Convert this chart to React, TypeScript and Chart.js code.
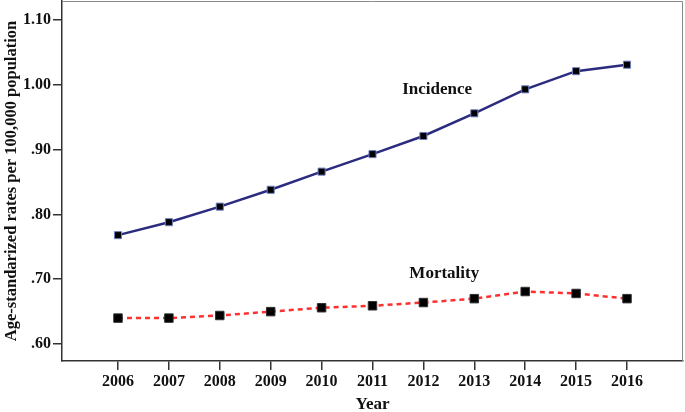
import React, { useEffect, useRef } from "react";
import { Chart, registerables } from "chart.js";

Chart.register(...registerables);

const years = [2006, 2007, 2008, 2009, 2010, 2011, 2012, 2013, 2014, 2015, 2016];
const incidence = [0.768, 0.788, 0.812, 0.838, 0.866, 0.893, 0.921, 0.956, 0.993, 1.021, 1.031];
const mortality = [0.640, 0.640, 0.644, 0.650, 0.656, 0.659, 0.664, 0.670, 0.681, 0.678, 0.670];
const yTicks = [0.6, 0.7, 0.8, 0.9, 1.0, 1.1];
const seriesLabels = [
  { text: "Incidence", x: 2012.27, y: 0.993 },
  { text: "Mortality", x: 2012.41, y: 0.708 },
];

const FONT = "'Liberation Serif', 'Times New Roman', serif";

const fmtY = (v: number) => {
  const s = v.toFixed(2);
  return s.startsWith("0") ? s.slice(1) : s;
};

export default function App() {
  const ref = useRef<HTMLCanvasElement | null>(null);
  useEffect(() => {
    if (!ref.current) return;
    const annot = {
      id: "annot",
      beforeDatasetsDraw(chart: any) {
        const { ctx, chartArea: a } = chart;
        ctx.save();
        ctx.strokeStyle = "#8a8a8a";
        ctx.lineWidth = 1;
        ctx.beginPath();
        ctx.moveTo(a.left, a.top + 0.5);
        ctx.lineTo(a.right - 0.5, a.top + 0.5);
        ctx.lineTo(a.right - 0.5, a.bottom);
        ctx.stroke();
        ctx.restore();
      },
      afterDatasetsDraw(chart: any) {
        const { ctx } = chart;
        const xs = chart.scales.x;
        const ys = chart.scales.y;
        ctx.save();
        ctx.fillStyle = "#111";
        ctx.font = `bold 17px ${FONT}`;
        ctx.textAlign = "center";
        ctx.textBaseline = "middle";
        seriesLabels.forEach((l) => {
          ctx.fillText(l.text, xs.getPixelForValue(l.x), ys.getPixelForValue(l.y));
        });
        ctx.restore();
      },
    };
    const chart = new Chart(ref.current, {
      type: "line",
      data: {
        datasets: [
          {
            label: "Incidence",
            data: years.map((y, i) => ({ x: y, y: incidence[i] })),
            borderColor: "#2b2b80",
            borderWidth: 2.5,
            pointStyle: "rect",
            pointRadius: 5,
            pointBackgroundColor: "#000",
            pointBorderColor: "#6f7fc0",
            pointBorderWidth: 1,
            tension: 0,
          },
          {
            label: "Mortality",
            data: years.map((y, i) => ({ x: y, y: mortality[i] })),
            borderColor: "#ff3030",
            borderWidth: 2.5,
            borderDash: [5, 4],
            pointStyle: "rect",
            pointRadius: 6,
            pointBackgroundColor: "#000",
            pointBorderColor: "#333",
            pointBorderWidth: 1,
            tension: 0,
          },
        ],
      },
      options: {
        animation: false,
        responsive: false,
        layout: { autoPadding: false, padding: { top: 1, right: 2, left: 0, bottom: 0 } },
        plugins: { legend: { display: false }, tooltip: { enabled: false } },
        scales: {
          x: {
            type: "linear",
            min: 2004.9,
            max: 2017.1,
            afterBuildTicks: (s: any) => {
              s.ticks = years.map((v) => ({ value: v }));
            },
            afterFit: (s: any) => {
              s.height = 51;
              s.paddingLeft = 0;
              s.paddingRight = 0;
            },
            grid: { drawOnChartArea: false, tickLength: 9, color: "#333", lineWidth: 1.5 },
            border: { color: "#333", width: 1.5 },
            ticks: {
              color: "#111",
              font: { family: FONT, size: 16, weight: "bold" },
              padding: 2,
              maxRotation: 0,
              callback: (v: any) => String(v),
            },
            title: {
              display: true,
              text: "Year",
              color: "#111",
              font: { family: FONT, size: 17, weight: "bold" },
              padding: { top: 5, bottom: -3 },
            },
          },
          y: {
            type: "linear",
            min: 0.5738,
            max: 1.1293,
            afterBuildTicks: (s: any) => {
              s.ticks = yTicks.map((v) => ({ value: v }));
            },
            afterFit: (s: any) => {
              s.width = 62;
              s.paddingTop = 0;
              s.paddingBottom = 0;
            },
            grid: { drawOnChartArea: false, tickLength: 9, color: "#333", lineWidth: 1.5 },
            border: { color: "#333", width: 1.5 },
            ticks: {
              color: "#111",
              font: { family: FONT, size: 16, weight: "bold" },
              padding: 2,
              callback: (v: any) => fmtY(Number(v)),
            },
            title: {
              display: true,
              text: "Age-standarized rates per 100,000 population",
              color: "#111",
              font: { family: FONT, size: 16.5, weight: "bold" },
              padding: { top: 2, bottom: 0 },
            },
          },
        },
      },
      plugins: [annot],
    } as any);
    return () => chart.destroy();
  }, []);
  return (
    <div style={{ position: "fixed", left: 0, top: 0, width: 685, height: 412, background: "#fff" }}>
      <canvas ref={ref} width={685} height={412} style={{ display: "block" }} />
    </div>
  );
}
